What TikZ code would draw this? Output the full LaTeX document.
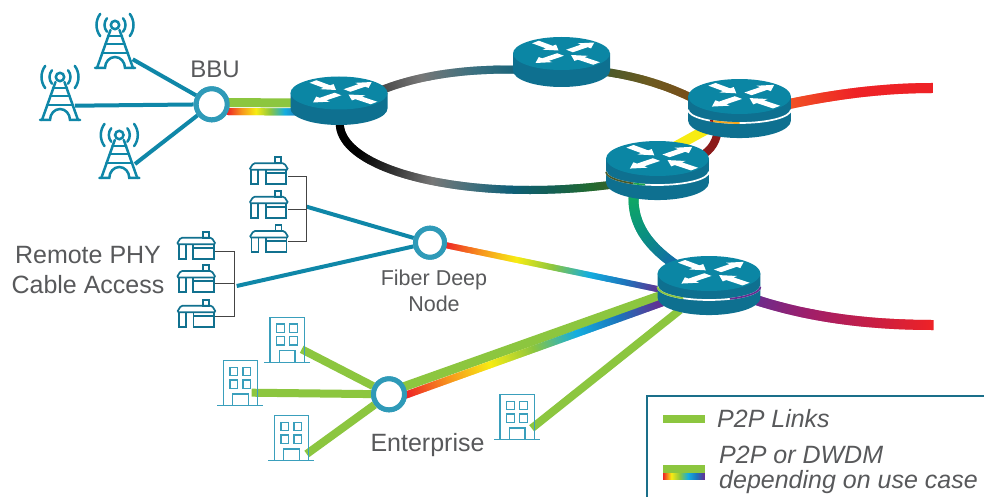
\documentclass[tikz,border=0pt]{standalone}
\usepackage{fontspec}
\setmainfont{Liberation Sans}
\usetikzlibrary{decorations.markings}
\definecolor{teal1}{HTML}{0F87A8}
\definecolor{ringc}{HTML}{2F9AB8}
\definecolor{routertop}{HTML}{0B86A4}
\definecolor{routerside}{HTML}{0E7090}
\definecolor{housec}{HTML}{11718F}
\definecolor{bldc}{HTML}{3A9FBC}
\definecolor{p2p}{HTML}{8CC63F}
\definecolor{labc}{HTML}{58595B}
\definecolor{legc}{HTML}{1A6F8A}
\definecolor{wirec}{HTML}{444444}
\definecolor{fibyellow}{HTML}{F7EC13}
\definecolor{fibdark}{HTML}{8B1A1A}
\definecolor{gapolive}{HTML}{4A5A28}
\definecolor{gapgreen}{HTML}{1FA84F}
\definecolor{gaporange}{HTML}{F7A81D}
\definecolor{gappurple}{HTML}{662D91}
\newcommand\setgrad[1]{\edef\gclist{#1}\foreach \gcval [count=\gcidx from 0] in \gclist {%
  \edef\gctmp{\noexpand\xglobal\noexpand\definecolor{gs\gcidx}{HTML}{\gcval}}\gctmp\xdef\gradn{\gcidx}}}
\newcommand\gradmark{%
  \pgfmathsetmacro\gs{min(1,\pgfkeysvalueof{/pgf/decoration/mark info/distance from start}/\pgfdecoratedpathlength)*\gradn}%
  \pgfmathtruncatemacro\gi{min(floor(\gs),\gradn-1)}%
  \pgfmathtruncatemacro\gj{\gi+1}%
  \pgfmathsetmacro\gf{100*(\gs-\gi)}%
  \colorlet{gc}{gs\gj!\gf!gs\gi}%
  \fill[gc] (-0.8pt,-\gradw pt/2) rectangle (0.8pt,\gradw pt/2);}
\tikzset{
  gradstroke/.style={postaction={decorate,decoration={markings,mark=between positions 0 and 1 step 1pt with {\gradmark}}}},
  ringnode/.style={circle,draw=ringc,fill=white,line width=5pt,minimum size=31pt,inner sep=0pt},
  tealline/.style={teal1,line width=4pt},
  greenline/.style={p2p,line width=8pt},
  wire/.style={wirec,line width=0.9pt},
  lab/.style={text=labc,inner sep=0pt},
  routerarrow/.style={white},
  tower/.pic={
    \begin{scope}[teal1,line width=2.5pt,line cap=round]
      \draw (0,0) circle[radius=4.2];
      \draw (-4.5,5) -- (-18,43); \draw (4.5,5) -- (18,43);
      \draw (-7,11) -- (7,11); \draw (-9.5,19) -- (9.5,19); \draw (-13,28) -- (13,28);
      \draw (-20,43) -- (-10,43) arc[start angle=180,end angle=360,x radius=10,y radius=11] -- (20,43);
      \draw ({10.5*cos(140)},{10.5*sin(140)}) arc[start angle=140,end angle=220,radius=10.5];
      \draw ({10.5*cos(40)},{10.5*sin(40)}) arc[start angle=40,end angle=-40,radius=10.5];
      \draw ({18.5*cos(143)},{18.5*sin(143)}) arc[start angle=143,end angle=217,radius=18.5];
      \draw ({18.5*cos(37)},{18.5*sin(37)}) arc[start angle=37,end angle=-37,radius=18.5];
    \end{scope}},
  house/.pic={
    \begin{scope}[housec,line width=1.7pt]
      \draw (26,-6) rectangle (32,0);
      \draw[rounded corners=1.5pt] (4,0) -- (35,0) -- (39,6.5) -- (0,6.5) -- cycle;
      \draw (2,6.5) -- (2,21) -- (9,21) -- (9,6.5);
      \draw (16.5,6.5) -- (16.5,21) -- (37,21) -- (37,6.5);
      \draw (16.5,10) -- (37,10);
    \end{scope}},
  building/.pic={
    \begin{scope}[bldc,line width=1.4pt]
      \draw (0,45) -- (0,0) -- (34.3,0) -- (34.3,45);
      \draw (-6,45) -- (40,45);
      \draw (6.7,6.7) rectangle (14.3,15);
      \draw (19.5,6.7) rectangle (27.3,15);
      \draw (6.7,19.3) rectangle (14.3,27.7);
      \draw (19.5,19.3) rectangle (27.3,27.7);
      \draw (9.3,45) -- (9.3,33.3) -- (25,33.3) -- (25,45);
    \end{scope}}
}
\newcommand\rarrow[6]{\fill[routerarrow]
  ({#1-.75*(#5)},{#2-.75*(#6)}) -- ({#1+.6*(#3)-.75*(#5)},{#2+.6*(#4)-.75*(#6)}) --
  ({#1+.6*(#3)-1.5*(#5)},{#2+.6*(#4)-1.5*(#6)}) -- ({#1+#3},{#2+#4}) --
  ({#1+.6*(#3)+1.5*(#5)},{#2+.6*(#4)+1.5*(#6)}) -- ({#1+.6*(#3)+.75*(#5)},{#2+.6*(#4)+.75*(#6)}) --
  ({#1+.75*(#5)},{#2+.75*(#6)}) -- cycle;}
% #1 centre coordinate, #2 scale, #3 wall height, #4 extra drawing on top
\newcommand\router[4]{\begin{scope}[shift={(#1)},scale=#2]
  \fill[routerside] (-48.5,0) -- (-48.5,#3) arc[start angle=180,end angle=0,x radius=48.5,y radius=16.5] -- (48.5,0) -- cycle;
  \fill[routertop] (0,0) ellipse[x radius=48.5,y radius=16.5];
  \rarrow{-26}{-11.5}{23}{8.5}{4.5}{-1.7}
  \rarrow{8}{-2.5}{24.7}{-8.5}{4.5}{1.7}
  \rarrow{-1}{1}{-25}{8.5}{4.5}{1.7}
  \rarrow{35}{10}{-25.5}{-8.5}{4.5}{-1.7}
  #4
\end{scope}}
\newcommand\gapwhite{\draw[white,line width=1.7pt] (-48.5,12.5) arc[start angle=180,end angle=0,x radius=48.5,y radius=12.5];}
\newcommand\gapbit[3]{\draw[#1,line width=1.7pt] ({48.5*cos(#2)},{12.5+12.5*sin(#2)}) arc[start angle=#2,end angle=#3,x radius=48.5,y radius=12.5];}
\newcommand\gradline[3]{\setgrad{#2}\def\gradw{#1}\path[gradstroke] #3;}
\begin{document}
\begin{tikzpicture}[x=1pt,y=-1pt]
\useasboundingbox (0,0) rectangle (984,497);
\fill[white] (0,0) rectangle (984,497);
% coordinates
\coordinate (r1) at (339,93);
\coordinate (r2) at (561.5,53.5);
\coordinate (r3) at (739.5,96.5);
\coordinate (r4) at (657.5,158.5);
\coordinate (r5) at (709,273.5);
\coordinate (t1) at (115,25);
\coordinate (t2) at (60,77);
\coordinate (t3) at (119.3,135);
\coordinate (t1f) at (132.7,59.3);
\coordinate (t2f) at (75,105.7);
\coordinate (t3f) at (135,164);
% hub nodes
\node[ringnode] (bbu) at (211.7,104.3) {};
\node[ringnode,minimum size=29pt] (fdn) at (430,242.7) {};
\node[ringnode] (ent) at (389,394.3) {};
% ring fibres
\gradline{8}{3A3A3A,777777,3A7080,0E6078}{(370,95) .. controls (420,72) and (480,68) .. (530,70)}
\gradline{8}{3D5A30,6C5A20,7D4A18}{(590,70) .. controls (630,74) and (670,85) .. (705,105)}
\gradline{8}{000000,000000,333333,777777,44707C,0F5F78,145F55,226A30,4A5A28}{(340,120) .. controls (335,160) and (420,190) .. (530,190) .. controls (565,190) and (600,187) .. (630,182)}
\coordinate (yA) at (660,155);
\coordinate (yB) at (720,122);
\draw[line width=10pt,fibyellow] (yA) -- (yB);
\coordinate (dA) at (697,158);
\coordinate (dB) at (718,130);
\draw[line width=8pt,fibdark] (dA) .. controls (708,153) and (716,145) .. (dB);
\gradline{10}{0FAD5F,0A9080,1565B0}{(634,190) .. controls (630,225) and (650,248) .. (680,268)}
\gradline{10}{F15A24,EE2226,EE2226}{(780,106) .. controls (830,95) and (880,88) .. (933,88)}
\gradline{10}{662D91,A01E6A,C71E45,EE2226}{(750,298) .. controls (800,315) and (860,325) .. (933,325)}
% BBU links
\draw[tealline] (t1f) -- (bbu);
\draw[tealline] (t2f) -- (bbu);
\draw[tealline] (t3f) -- (bbu);
\coordinate (bbuG) at (226,102.5);
\coordinate (r1G) at (295,103);
\draw[p2p,line width=9pt] (bbuG) -- (r1G);
\gradline{7}{EE2226,F7941D,F7EC13,8CC63F,14AEE0,1C75BC}{(228,111.5) -- (300,112)}
% Fiber deep
\coordinate (g1) at (306.7,206.7);
\coordinate (g2) at (236.7,286);
\draw[tealline] (g1) -- (fdn);
\draw[tealline] (g2) -- (fdn);
\gradline{6}{EE2226,F7941D,F7EC13,8CC63F,14AEE0,1C75BC,662D91}{(445,245) -- (662,290)}
% Enterprise
\coordinate (b1f) at (301.7,349.3);
\coordinate (b2f) at (251.7,392.7);
\coordinate (b3f) at (306.7,454);
\coordinate (b4f) at (531.7,428.3);
\coordinate (r5b) at (680,310);
\coordinate (entG) at (403,387);
\coordinate (r5G) at (662,295);
\draw[greenline] (b1f) -- (ent);
\draw[greenline] (b2f) -- (ent);
\draw[greenline] (b3f) -- (ent);
\draw[greenline] (b4f) -- (r5b);
\draw[p2p,line width=9pt] (entG) -- (r5G);
\gradline{7}{EE2226,F7941D,F7EC13,8CC63F,14AEE0,1C75BC,662D91}{(406,395) -- (662,303)}
% redraw hubs on top
\node[ringnode] at (bbu) {};
\node[ringnode,minimum size=29pt] at (fdn) {};
\node[ringnode] at (ent) {};
% routers
\router{r1}{1}{15.5}{}
\router{r2}{1}{17}{}
\router{r3}{1.06}{22.7}{\gapwhite\gapbit{gaporange}{121}{90}\gapbit{fibdark}{125}{121}}
\router{r4}{1.06}{22.7}{\gapwhite\gapbit{gapolive}{180}{118}\gapbit{gapgreen}{118}{104}}
\router{r5}{1.06}{22.7}{\gapwhite\gapbit{p2p}{180}{120}\gapbit{gappurple}{66}{0}}
% towers
\pic at (t1) {tower};
\pic at (t2) {tower};
\pic at (t3) {tower};
% houses
\coordinate (h1) at (249.3,163.3);
\coordinate (h2) at (249.3,196.7);
\coordinate (h3) at (249.5,231);
\coordinate (h4) at (176.7,237.7);
\coordinate (h5) at (176.7,271);
\coordinate (h6) at (177,305.7);
\foreach \hh in {h1,h2,h3,h4,h5,h6} {\pic at (\hh) {house};}
% brackets
\coordinate (w1a) at (288,176.7); \coordinate (w1b) at (306.7,176.7);
\coordinate (w1c) at (306.7,241.7); \coordinate (w1d) at (288,241.7);
\coordinate (w1e) at (288,209); \coordinate (w1f) at (306.7,209);
\draw[wire] (w1a) -- (w1b) -- (w1c) -- (w1d);
\draw[wire] (w1e) -- (w1f);
\coordinate (w2a) at (215,251); \coordinate (w2b) at (234,251);
\coordinate (w2c) at (234,316); \coordinate (w2d) at (215,316);
\coordinate (w2e) at (215,283.3); \coordinate (w2f) at (234,283.3);
\draw[wire] (w2a) -- (w2b) -- (w2c) -- (w2d);
\draw[wire] (w2e) -- (w2f);
% buildings
\pic at (270,317.3) {building};
\pic at (223.3,360.7) {building};
\pic at (274.3,415.7) {building};
\pic at (500,394.7) {building};
% labels
\node[lab,anchor=base,font=\fontsize{24}{28}\selectfont] (lbbu) at (215,77.3) {BBU};
\node[lab,anchor=center,align=center,font=\fontsize{25}{30}\selectfont] (lremote) at (88,270) {Remote PHY\\Cable Access};
\node[lab,anchor=center,align=center,font=\fontsize{21.5}{25.5}\selectfont] (lfdn) at (434,291) {Fiber Deep\\Node};
\node[lab,anchor=base,font=\fontsize{25}{30}\selectfont] (lent) at (427.5,451.7) {Enterprise};
% legend
\coordinate (lgA) at (647,497); \coordinate (lgB) at (647,396); \coordinate (lgC) at (984,396);
\draw[legc,line width=2pt] (lgA) -- (lgB) -- (lgC);
\coordinate (k1a) at (663.3,419.2); \coordinate (k1b) at (705,419.2);
\draw[p2p,line width=8.3pt] (k1a) -- (k1b);
\coordinate (k2a) at (663.3,469.2); \coordinate (k2b) at (705,469.2);
\draw[p2p,line width=8.3pt] (k2a) -- (k2b);
\gradline{6.7}{EE2226,F7EC13,8CC63F,14AEE0,1C75BC,662D91}{(663.3,476.7) -- (705,476.7)}
\node[lab,anchor=base west,font=\fontsize{25}{30}\selectfont\itshape] (lk1) at (717,427.3) {P2P Links};
\node[lab,anchor=west,align=left,font=\fontsize{25}{24.5}\selectfont\itshape] (lk2) at (719,470) {P2P or DWDM\\depending on use case};
\end{tikzpicture}
\end{document}
